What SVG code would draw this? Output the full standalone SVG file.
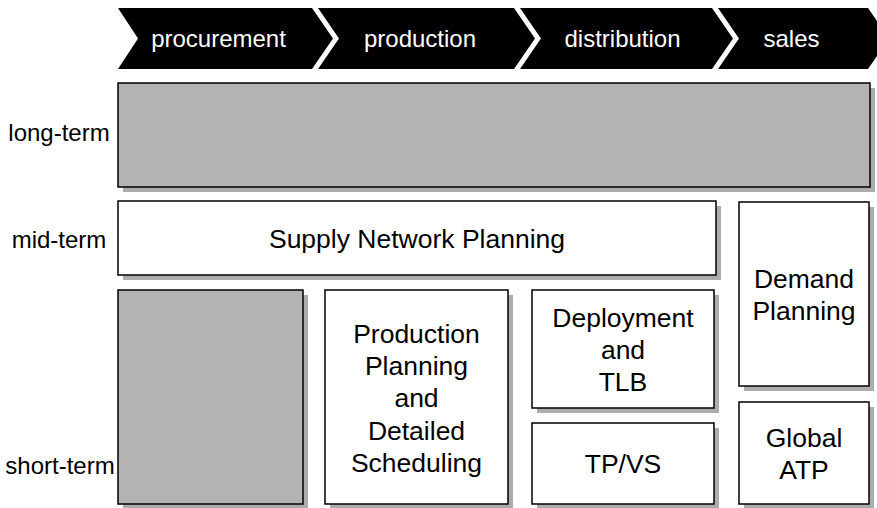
<svg xmlns="http://www.w3.org/2000/svg" width="877" height="508" viewBox="0 0 877 508">
<style>
.chev{fill:#000}
.ct{font-family:"Liberation Sans",Arial,sans-serif;font-size:24px;fill:#fff;text-anchor:middle}
.lbl{font-family:"Liberation Sans",Arial,sans-serif;font-size:24px;fill:#000;text-anchor:middle}
.bt{font-family:"Liberation Sans",Arial,sans-serif;font-size:26.5px;fill:#000;text-anchor:middle}
.sh{fill:#acacac}
.box{fill:#fff;stroke:#000;stroke-width:1.5}
.gbox{fill:#b3b3b3;stroke:#000;stroke-width:1.5}
</style>
<rect width="877" height="508" fill="#fff"/>
<g id="header">
<polygon class="chev" points="118,8 312,8 333,38.5 312,69 118,69 138,38.5"/>
<polygon class="chev" points="318,8 514,8 535,38.5 514,69 318,69 339,38.5"/>
<polygon class="chev" points="520,8 712,8 733,38.5 712,69 520,69 541,38.5"/>
<polygon class="chev" points="718,8 868,8 889,38.5 868,69 718,69 739,38.5"/>
<text class="ct" x="218.5" y="47">procurement</text>
<text class="ct" x="420" y="47">production</text>
<text class="ct" x="622.5" y="47">distribution</text>
<text class="ct" x="791.5" y="47">sales</text>
</g>
<g id="labels">
<text class="lbl" x="59" y="141">long-term</text>
<text class="lbl" x="59" y="248">mid-term</text>
<text class="lbl" x="60" y="474">short-term</text>
</g>
<g id="long-term">
<rect class="sh" x="123" y="88" width="752" height="104"/>
<rect class="gbox" x="118" y="83" width="752" height="104"/>
</g>
<g id="snp">
<rect class="sh" x="123" y="206" width="598" height="74"/>
<rect class="box" x="118" y="201" width="598" height="74"/>
<text class="bt" x="417" y="247.5">Supply Network Planning</text>
</g>
<g id="demand-planning">
<rect class="sh" x="744" y="207" width="130" height="184"/>
<rect class="box" x="739" y="202" width="130" height="184"/>
<text class="bt" x="804" y="287.5">Demand</text>
<text class="bt" x="804" y="319.5">Planning</text>
</g>
<g id="short-term">
<rect class="sh" x="123" y="295" width="185" height="214"/>
<rect class="gbox" x="118" y="290" width="185" height="214"/>
</g>
<g id="ppds">
<rect class="sh" x="330" y="295" width="183" height="214"/>
<rect class="box" x="325" y="290" width="183" height="214"/>
<text class="bt" x="416.5" y="342.5">Production</text>
<text class="bt" x="416.5" y="375">Planning</text>
<text class="bt" x="416.5" y="407">and</text>
<text class="bt" x="416.5" y="440">Detailed</text>
<text class="bt" x="416.5" y="472">Scheduling</text>
</g>
<g id="deployment">
<rect class="sh" x="537" y="295" width="182" height="118"/>
<rect class="box" x="532" y="290" width="182" height="118"/>
<text class="bt" x="623" y="327">Deployment</text>
<text class="bt" x="623" y="359">and</text>
<text class="bt" x="623" y="391">TLB</text>
</g>
<g id="tpvs">
<rect class="sh" x="537" y="428" width="182" height="81"/>
<rect class="box" x="532" y="423" width="182" height="81"/>
<text class="bt" x="623" y="473">TP/VS</text>
</g>
<g id="global-atp">
<rect class="sh" x="744" y="407" width="130" height="102"/>
<rect class="box" x="739" y="402" width="130" height="102"/>
<text class="bt" x="804" y="446.5">Global</text>
<text class="bt" x="804" y="478.5">ATP</text>
</g>
<g id="connectors"></g>
</svg>
